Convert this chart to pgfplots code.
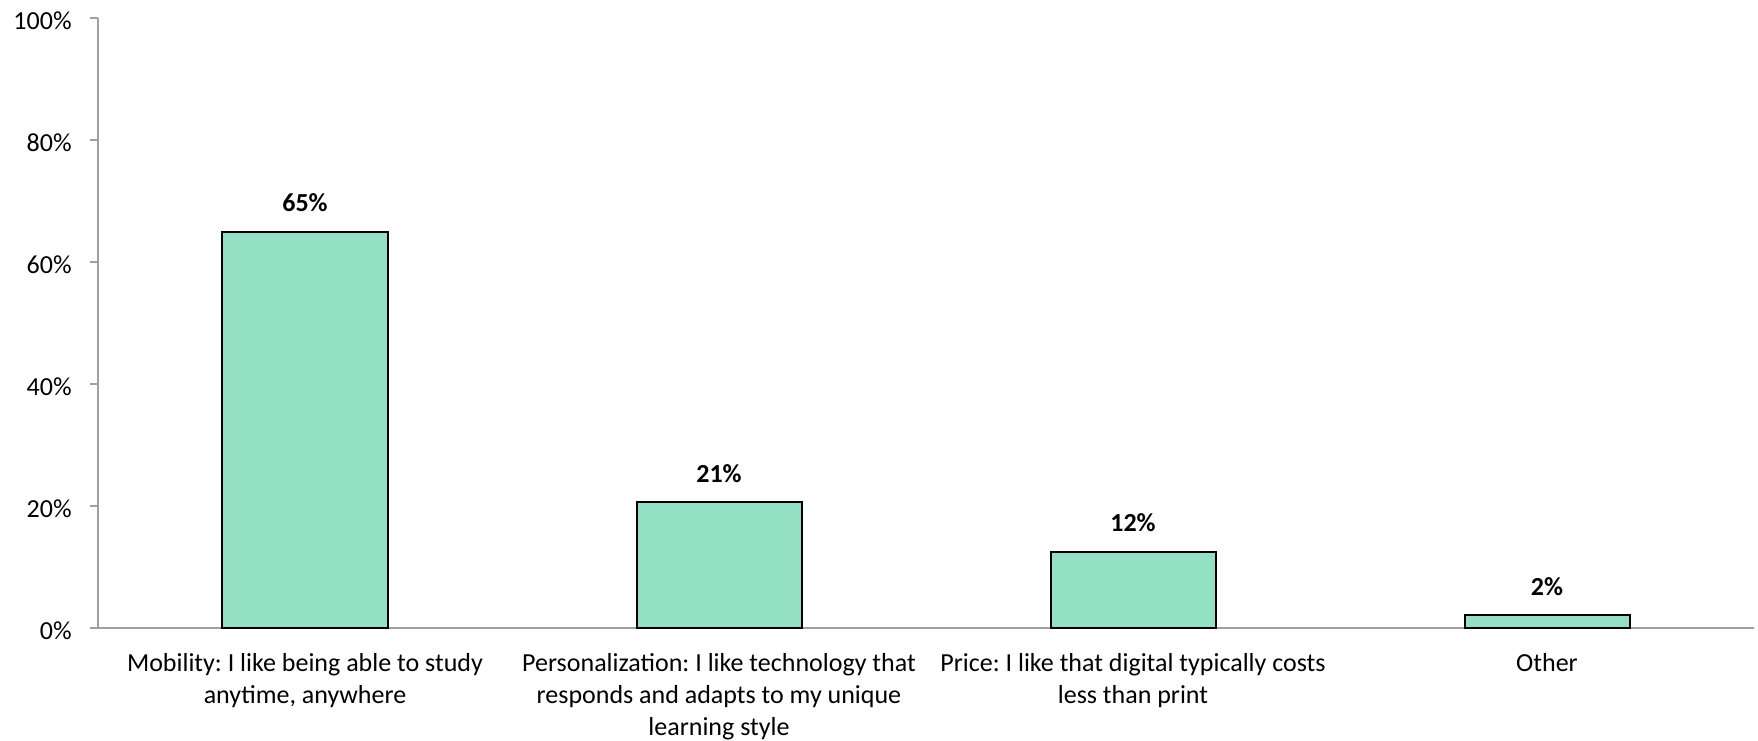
\documentclass[border=0pt]{standalone}
\usepackage{pgfplots}
\pgfplotsset{compat=1.18}
\usepackage{fontspec}
\setmainfont{Carlito}

\definecolor{barfill}{RGB}{148,224,196}
\definecolor{axisgray}{RGB}{160,160,160}

\begin{document}
\frenchspacing
\fontsize{13}{15.4}\selectfont
\begin{tikzpicture}
  \begin{axis}[
      width=828pt, height=305pt,
      scale only axis,
      ybar,
      bar width=82.5pt,
      xmin=-0.5, xmax=3.5,
      ymin=0, ymax=100,
      enlargelimits=false,
      axis x line=bottom,
      axis y line=left,
      axis line style={axisgray, line width=1pt, -},
      tick align=outside,
      major tick length=4pt,
      tick style={axisgray, line width=1pt},
      xtick={0,1,2,3},
      major x tick style={draw=none},
      extra x ticks={-0.5,0.5,1.5,2.5,3.5},
      extra x tick labels={},
      extra x tick style={major x tick style={axisgray, line width=1pt}},
      xticklabels={
        {Mobility: I like being able to study\\anytime, anywhere},
        {Personalization: I like technology that\\responds and adapts to my unique\\learning style},
        {Price: I like that digital typically costs\\less than print},
        {Other}
      },
      xticklabel style={align=center, anchor=north, inner sep=0pt, yshift=-8.7pt,
        font=\fontsize{13}{15.8}\selectfont},
      ytick={0,20,...,100},
      yticklabel={\pgfmathprintnumber{\tick}\%},
      yticklabel style={anchor=east, inner sep=0pt, xshift=-9pt, yshift=-1.5pt,
        font=\fontsize{13}{15.4}\selectfont},
      /pgf/number format/assume math mode=true,
      point meta=explicit,
      nodes near coords={\textbf{\pgfmathprintnumber{\pgfplotspointmeta}\%}},
      nodes near coords style={anchor=base, inner sep=0pt, yshift=10pt,
        font=\fontsize{13}{15.4}\selectfont},
    ]
    \addplot[fill=barfill, draw=black, line width=1pt] coordinates {
      (0,65) [65]
      (1,20.6) [21]
      (2,12.5) [12]
      (3,2.1) [2]
    };
  \end{axis}
  \pgfresetboundingbox
  \path[use as bounding box] (-49pt,-56pt) rectangle (830pt,314pt);
\end{tikzpicture}
\end{document}
